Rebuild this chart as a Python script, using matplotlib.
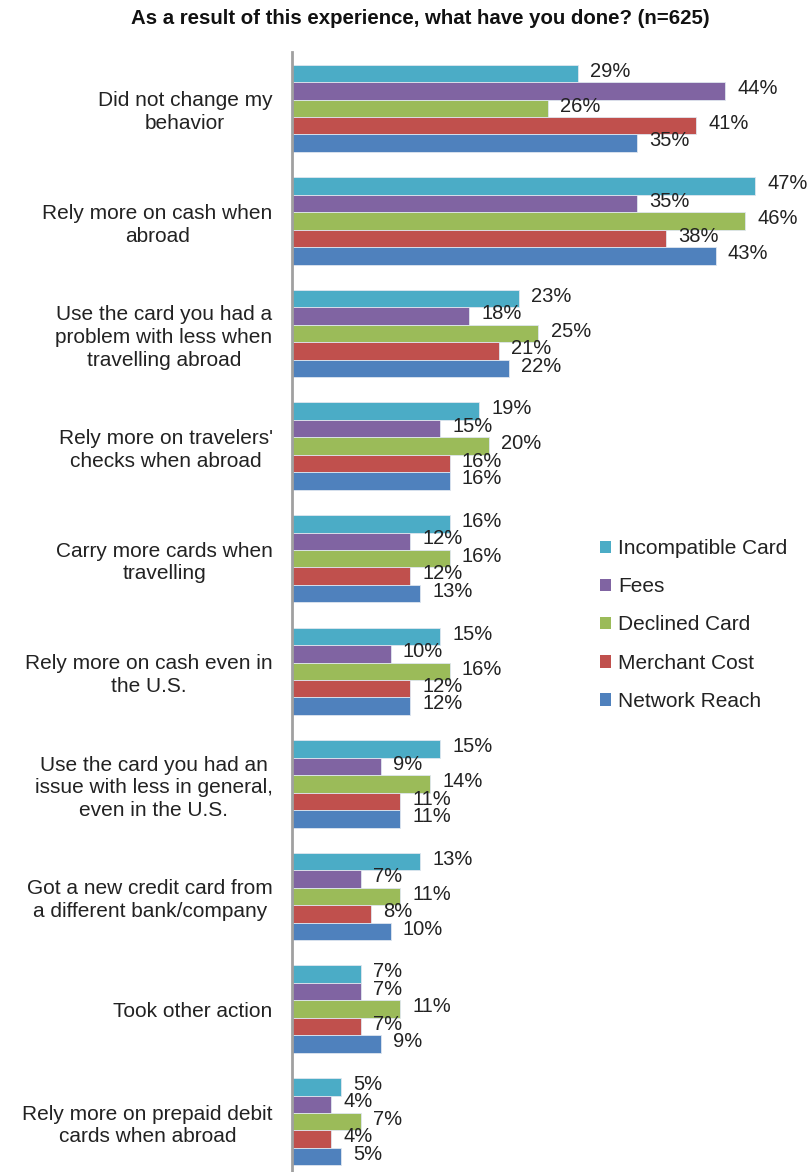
import numpy as np
import matplotlib
matplotlib.use("Agg")
import matplotlib.pyplot as plt
from matplotlib.patches import Patch

plt.rcParams['font.family'] = ['Liberation Sans', 'DejaVu Sans']

categories = [
    "Did not change my\nbehavior",
    "Rely more on cash when\nabroad",
    "Use the card you had a\nproblem with less when\ntravelling abroad",
    "Rely more on travelers'\nchecks when abroad",
    "Carry more cards when\ntravelling",
    "Rely more on cash even in\nthe U.S.",
    "Use the card you had an\nissue with less in general,\neven in the U.S.",
    "Got a new credit card from\na different bank/company",
    "Took other action",
    "Rely more on prepaid debit\ncards when abroad",
]
series_names = ["Incompatible Card", "Fees", "Declined Card", "Merchant Cost", "Network Reach"]
incompatible = [29, 47, 23, 19, 16, 15, 15, 13, 7, 5]
fees = [44, 35, 18, 15, 12, 10, 9, 7, 7, 4]
declined = [26, 46, 25, 20, 16, 16, 14, 11, 11, 7]
merchant = [41, 38, 21, 16, 12, 12, 11, 8, 7, 4]
network = [35, 43, 22, 16, 13, 12, 11, 10, 9, 5]
colors = ["#4BACC6", "#8064A2", "#9BBB59", "#C0504D", "#4F81BD"]

W, H = 808, 1172
fig = plt.figure(figsize=(W / 100, H / 100), dpi=100)
# plot area in pixel units: left axis line at x=292, category band from y=52 to y=1178
ax = fig.add_axes([292 / W, 1 - 1178 / H, (800 - 292) / W, 1126 / H])
px_per_pct = 9.85
ax.set_xlim(0, (800 - 292) / px_per_pct)
ax.set_ylim(len(categories) - 0.5, -0.5)

y = np.arange(len(categories))
bar_h = 0.155
all_series = [incompatible, fees, declined, merchant, network]
for i, (vals, name, c) in enumerate(zip(all_series, series_names, colors)):
    offs = y + (i - 2) * bar_h
    ax.barh(offs, vals, height=bar_h, color=c, edgecolor="#dfe6ef", linewidth=0.6, label=name)
    for yy, v in zip(offs, vals):
        ax.text(v + 1.25, yy - 0.02, f"{v}%", va="center", ha="left", fontsize=14.5, color="#222222")

ax.set_yticks(y)
ax.set_yticklabels(categories, fontsize=15, color="#222222", ha="right",
                   multialignment="center", linespacing=1.25)
ax.tick_params(axis="y", length=0, pad=14)
ax.set_xticks([])
for side in ["top", "right", "bottom"]:
    ax.spines[side].set_visible(False)
ax.spines["left"].set_color("#a0a0a0")
ax.spines["left"].set_linewidth(2)

fig.text(420 / W, 1 - 18 / H, "As a result of this experience, what have you done? (n=625)",
         ha="center", va="center", fontsize=14.7, fontweight="bold", color="#111111")

handles = [Patch(facecolor=c, edgecolor="none") for c in colors]
fig.legend(handles, series_names, loc="center left", bbox_to_anchor=(581 / W, 1 - 625 / H),
           frameon=False, fontsize=15, handlelength=0.55, handleheight=0.55,
           handletextpad=0.35, labelspacing=0.92, labelcolor="#222222")

fig.savefig("out.png", dpi=100)
